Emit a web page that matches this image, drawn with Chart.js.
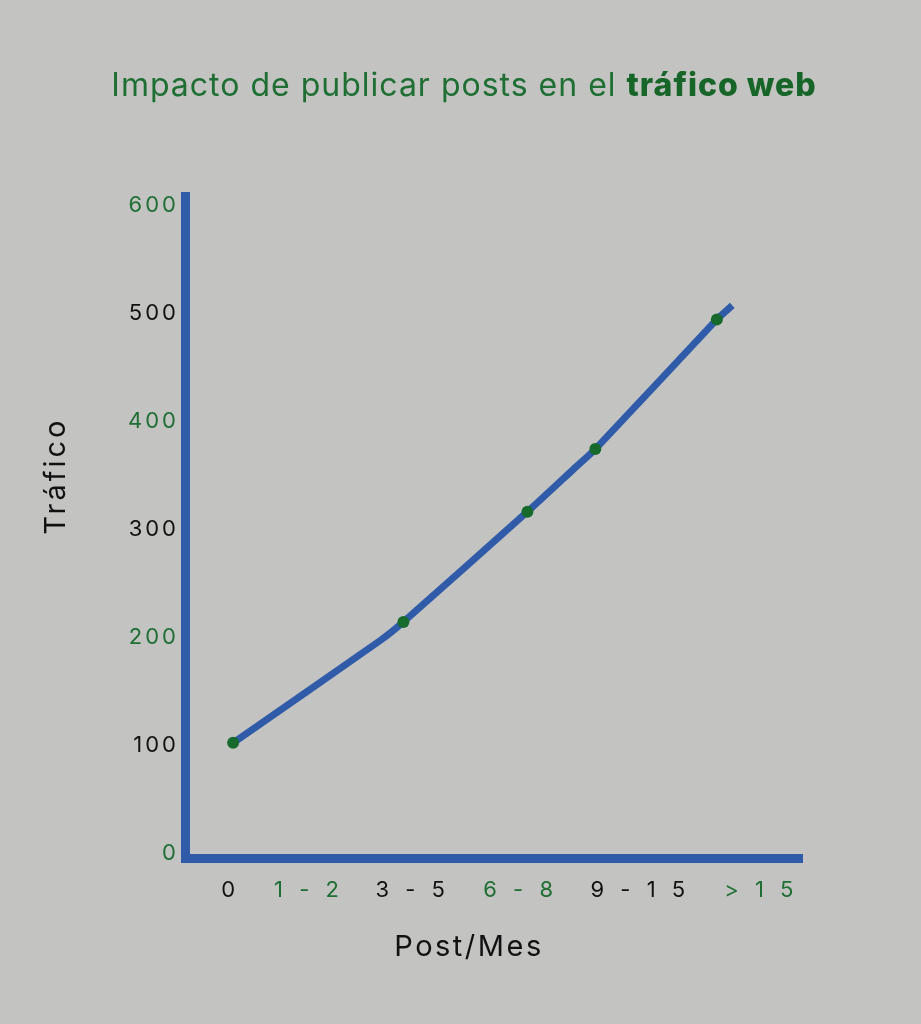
<!DOCTYPE html>
<html lang="es">
<head>
<meta charset="utf-8">
<title>Impacto de publicar posts en el tráfico web</title>
<script src="https://cdn.jsdelivr.net/npm/chart.js@4.4.1/dist/chart.umd.min.js"></script>
<style>
  html, body { margin: 0; padding: 0; background: #c3c4c2; }
  #wrap { position: relative; width: 921px; height: 1024px; overflow: hidden; }
  #title {
    position: absolute; left: 0; top: 65px; width: 928px;
    text-align: center; font-family: Inter, sans-serif; font-size: 32px;
    color: #1f6e33; white-space: nowrap; letter-spacing: 1px;
  }
  #title b { font-weight: 800; color: #176529; }
  canvas { position: absolute; left: 0; top: 0; }
</style>
</head>
<body>
<div id="wrap">
  <canvas id="chart" width="921" height="1024"></canvas>
  <div id="title">Impacto de publicar posts en el <b>tráfico web</b></div>
</div>
<script>
// ── Colours ───────────────────────────────────────────────────────
const BLUE  = "#2f5ba9";
const GREEN = "#1f6e33";
const DOT   = "#166a2c";
const INK   = "#111111";

// ── Data ──────────────────────────────────────────────────────────
// x axis is a 0–100 position scale; the category labels sit on it
const xTickPos    = [7.4, 20.1, 36.9, 54.4, 73.8, 93.4];
const xTickLabels = ["0", "1 - 2", "3 - 5", "6 - 8", "9 - 1 5", "> 1 5"];
const xTickColors = [INK, GREEN, INK, GREEN, INK, GREEN];

const yTicks      = [0, 100, 200, 300, 400, 500, 600];
const yTickColors = [GREEN, INK, GREEN, INK, GREEN, INK, GREEN];

// traffic line vertices; only some carry a dot
const lineX   = [7.8, 31.7, 35.4, 55.5, 62.9, 66.5, 86.2, 88.7];
const lineY   = [102, 197, 214, 316, 355, 374, 494, 507];
const hasDot  = [true, false, true, true, false, true, true, false];

const X_TITLE = "Post/Mes";
const Y_TITLE = "Tráfico";

// ── Axis titles drawn at their reference spots ────────────────────
const axisTitles = {
  id: "axisTitles",
  afterDraw(chart) {
    const ctx = chart.ctx;
    ctx.save();
    ctx.fillStyle = INK;
    ctx.textAlign = "center";
    ctx.textBaseline = "middle";
    ctx.font = "29px Inter, sans-serif";
    ctx.letterSpacing = "2.5px";
    ctx.fillText(X_TITLE, 469, 947);
    ctx.translate(56, 476);
    ctx.rotate(-Math.PI / 2);
    ctx.letterSpacing = "3px";
    ctx.fillText(Y_TITLE, 0, 0);
    ctx.restore();
  },
};

// ── Wider tick lettering (the original face runs wide) ────────────
const tickSpacing = {
  id: "tickSpacing",
  afterLayout(chart) {
    [["x", "5px"], ["y", "3px"]].forEach(([id, sp]) => {
      const s = chart.scales[id];
      if (s._spaced) return;
      const orig = s.drawLabels.bind(s);
      s.drawLabels = area => {
        s.ctx.save();
        s.ctx.letterSpacing = sp;
        orig(area);
        s.ctx.restore();
      };
      s._spaced = true;
    });
  },
};

new Chart(document.getElementById("chart").getContext("2d"), {
  type: "line",
  data: {
    datasets: [{
      data: lineX.map((x, i) => ({ x, y: lineY[i] })),
      borderColor: BLUE,
      borderWidth: 7,
      borderCapStyle: "butt",
      borderJoinStyle: "round",
      tension: 0.2,
      pointRadius: hasDot.map(d => (d ? 6 : 0)),
      pointBackgroundColor: DOT,
      pointBorderWidth: 0,
      fill: false,
    }],
  },
  options: {
    responsive: false,
    animation: false,
    devicePixelRatio: 1,
    layout: { padding: { left: 0, top: 196, right: 119, bottom: 0 } },
    plugins: { legend: { display: false }, tooltip: { enabled: false } },
    scales: {
      x: {
        type: "linear",
        min: 0,
        max: 100,
        afterFit: s => { s.height = 166; },
        afterBuildTicks: s => { s.ticks = xTickPos.map(v => ({ value: v })); },
        grid: { display: false, drawTicks: false },
        border: { display: true, color: BLUE, width: 9 },
        ticks: {
          autoSkip: false,
          maxRotation: 0,
          padding: 19,
          font: { family: "Inter, sans-serif", size: 22 },
          color: c => xTickColors[c.index],
          callback: (v, i) => xTickLabels[i],
        },
      },
      y: {
        type: "linear",
        min: -4.6,
        max: 608.3,
        afterFit: s => { s.width = 185; },
        afterBuildTicks: s => { s.ticks = yTicks.map(v => ({ value: v })); },
        grid: { display: false, drawTicks: false },
        border: { display: true, color: BLUE, width: 9 },
        ticks: {
          padding: 6,
          font: { family: "Inter, sans-serif", size: 22 },
          color: c => yTickColors[c.index],
          callback: v => String(v),
        },
      },
    },
  },
  plugins: [tickSpacing, axisTitles],
});
</script>
</body>
</html>
